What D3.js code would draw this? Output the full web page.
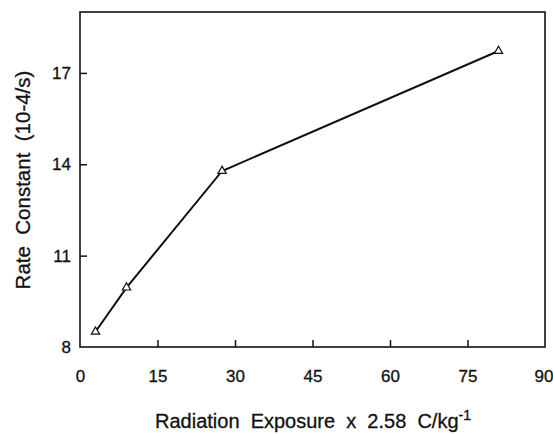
<!DOCTYPE html>
<html>
<head>
<meta charset="utf-8">
<script src="https://cdn.jsdelivr.net/npm/d3@7"></script>
<style>
  html, body { margin: 0; padding: 0; background: #fff; }
  svg text { font-family: "Liberation Sans", Arial, Helvetica, sans-serif; fill: #111; stroke: #111; stroke-width: 0.3; }
</style>
</head>
<body>
<svg id="chart" width="553" height="434"></svg>
<script>
// Radiation exposure (x 2.58 C/kg) vs. rate constant (10^-4 /s)
const exposure = [3, 9, 27.5, 81];
const rateConstant = [8.5, 9.95, 13.78, 17.72];
const xTicks = [0, 15, 30, 45, 60, 75, 90];
const yTicks = [8, 11, 14, 17];

const svg = d3.select("#chart");
const plotLeft = 80, plotRight = 545, plotTop = 12, plotBottom = 347;

const x = d3.scaleLinear().domain([0, 90]).range([plotLeft, plotRight]);
const y = d3.scaleLinear().domain([8, 19]).range([plotBottom, plotTop]);

// frame
svg.append("rect")
  .attr("x", plotLeft).attr("y", plotTop)
  .attr("width", plotRight - plotLeft).attr("height", plotBottom - plotTop)
  .attr("fill", "none").attr("stroke", "#111").attr("stroke-width", 1.6);

// bottom axis: inward ticks
const xAxis = svg.append("g").attr("transform", `translate(0,${plotBottom})`)
  .call(d3.axisBottom(x).tickValues(xTicks).tickSize(-7).tickPadding(23).tickFormat(d3.format("d")));
xAxis.select(".domain").remove();
xAxis.selectAll("line").attr("stroke", "#111").attr("stroke-width", 1.5);
xAxis.selectAll("text").attr("font-size", 17).attr("fill", "#111");
xAxis.selectAll(".tick").filter(d => d === 0 || d === 90).select("line").remove();
xAxis.selectAll(".tick").filter(d => d === 90).select("text").attr("dx", -1.5);

// left axis: inward ticks
const yAxis = svg.append("g").attr("transform", `translate(${plotLeft},0)`)
  .call(d3.axisLeft(y).tickValues(yTicks).tickSize(-7).tickPadding(9).tickFormat(d3.format("d")));
yAxis.select(".domain").remove();
yAxis.selectAll("line").attr("stroke", "#111").attr("stroke-width", 1.5);
yAxis.selectAll("text").attr("font-size", 17).attr("fill", "#111");
yAxis.selectAll(".tick").filter(d => d === 8).select("line").remove();

// data line
const pts = exposure.map((v, i) => [v, rateConstant[i]]);
svg.append("path")
  .datum(pts)
  .attr("fill", "none").attr("stroke", "#111").attr("stroke-width", 2)
  .attr("d", d3.line().x(d => x(d[0])).y(d => y(d[1])));

// open triangle markers
const tri = d3.symbol().type(d3.symbolTriangle).size(30);
svg.selectAll("path.marker").data(pts).join("path")
  .attr("class", "marker")
  .attr("transform", d => `translate(${x(d[0])},${y(d[1])})`)
  .attr("d", tri)
  .attr("fill", "#fff").attr("stroke", "#111").attr("stroke-width", 1.2);

// axis titles
svg.append("text")
  .attr("transform", `translate(30,180) rotate(-90)`)
  .attr("text-anchor", "middle").attr("font-size", 20.5).attr("xml:space", "preserve")
  .text("Rate  Constant  (10-4/s)");

const xt = svg.append("text")
  .attr("x", 313).attr("y", 428)
  .attr("text-anchor", "middle").attr("font-size", 20).attr("xml:space", "preserve");
xt.append("tspan").text("Radiation  Exposure  x  2.58  C/kg");
xt.append("tspan").attr("dy", -8).attr("font-size", 14).text("-1");
</script>
</body>
</html>
